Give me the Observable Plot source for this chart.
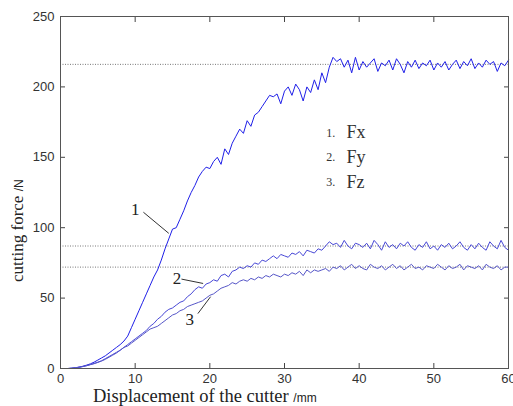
<!DOCTYPE html>
<html>
<head>
<meta charset="utf-8">
<script src="https://cdn.jsdelivr.net/npm/d3@7"></script>
<script src="https://cdn.jsdelivr.net/npm/@observablehq/plot@0.6"></script>
<style>
  body { margin: 0; background: #fff; }
  #chart svg { display: block; }
</style>
</head>
<body>
<div id="chart"></div>
<script>
// Displacement grid (mm), 0..60 every 0.5
const displacement = d3.range(0, 60.001, 0.5);

// Fx (curve 1), N
const fx = [
  0,0,0,0.2,0.5,1,1.6,2.4,3.3,4.5,
  6,7.5,9,11,13,15,17,19.5,23,29,
  35,41,47,53,59,65,70,77,85,92,
  99,100,106,112,119,125,130,136,140,143,
  142,147,150,145,156,152,160,165,170,167,
  176,172,180,182,186,190,194,193,195,188,
  197,200,194,202,198,190,200,196,205,198,
  210,203,214,221,218,220,214,219,210,221,
  212,218,214,217,220,211,217,215,219,212,
  220,216,210,218,214,219,213,217,215,219,
  212,217,214,218,212,216,219,213,218,215,
  220,213,217,214,219,216,218,211,217,215,
  219
];
// Fy (curve 2), N
const fy = [
  0,0,0,0.2,0.5,0.9,1.4,2,2.8,3.6,
  4.5,5.5,7,8.5,10,11.5,13,15,17,19,
  21,23,25,27,30,32,35,37,40,42,
  43,45,47,48,51,53,56,58,57,60,
  61,63,62,66,67,65,69,70,72,71,
  73,72,75,74,77,76,78,80,78,81,
  80,79,82,81,83,80,84,83,82,85,
  84,87,90,88,89,86,91,87,85,89,
  88,86,89,85,91,88,84,90,86,88,
  85,89,87,90,86,84,88,86,90,85,
  87,84,88,86,89,85,87,90,86,84,
  88,85,89,86,84,90,87,85,91,86,
  84
];
// Fz (curve 3), N
const fz = [
  0,0,0,0.2,0.5,0.9,1.4,2,2.7,3.4,
  4.3,5.3,6.5,8,9.5,11,13,15,16,18,
  20,22,24,26,28,29,30,32,34,36,
  38,39,41,42,44,45,46,47,48,50,
  52,53,55,57,58,59,61,60,62,63,
  62,64,63,65,64,66,65,67,66,65,
  67,66,68,67,69,66,70,68,70,69,
  70,71,69,72,71,73,70,72,74,71,
  73,71,70,74,72,71,73,70,72,74,
  71,73,70,72,74,71,72,70,73,72,
  71,74,72,70,73,71,72,74,70,73,
  72,71,73,70,74,72,71,73,70,72,
  72
];

// Steady-state reference levels (dotted lines)
const steadyLevels = [216, 87, 72];

// Tick labels
const xTicks = [0, 10, 20, 30, 40, 50, 60];
const yTicks = [0, 50, 100, 150, 200, 250];

// Curve labels with leader lines
const curveLabels = ["1", "2", "3"];
const labelX = [10.0, 15.6, 17.3];
const labelY = [113, 64, 35];
const leaderX1 = [11.1, 16.2, 18.4];
const leaderY1 = [111, 63.5, 39];
const leaderX2 = [14.5, 19.1, 20.1];
const leaderY2 = [96, 60.4, 51];

// Legend text
const legendNums = ["1.", "2.", "3."];
const legendNames = ["Fx", "Fy", "Fz"];
const legendY = [167.5, 150, 132.5];

const seriesColors = {Fx: "#1f1fe8", Fy: "#4848d6", Fz: "#5656c8"};

const rows = [];
[["Fx", fx], ["Fy", fy], ["Fz", fz]].forEach(([name, vals]) => {
  vals.forEach((v, i) => rows.push({s: name, x: displacement[i], y: v}));
});
const labels = curveLabels.map((t, i) => ({t, x: labelX[i], y: labelY[i]}));
const leaders = curveLabels.map((t, i) => ({x1: leaderX1[i], y1: leaderY1[i], x2: leaderX2[i], y2: leaderY2[i]}));
const legend = legendNums.map((n, i) => ({n, name: legendNames[i], y: legendY[i]}));

const chart = Plot.plot({
  width: 513,
  height: 406,
  marginLeft: 60,
  marginRight: 5,
  marginTop: 16,
  marginBottom: 38,
  style: {fontFamily: "'Liberation Sans', Arial, sans-serif", fontSize: "13px", color: "#333", background: "#fff"},
  x: {domain: [0, 60]},
  y: {domain: [0, 250]},
  marks: [
    Plot.ruleY(steadyLevels, {stroke: "#555", strokeWidth: 0.8, strokeDasharray: "1,1.5"}),
    Plot.line(rows, {x: "x", y: "y", z: "s", stroke: d => seriesColors[d.s], strokeWidth: 1}),
    Plot.link(leaders, {x1: "x1", y1: "y1", x2: "x2", y2: "y2", stroke: "#333", strokeWidth: 1}),
    Plot.text(labels, {x: "x", y: "y", text: "t", fontFamily: "'Liberation Serif', 'Times New Roman', serif", fontSize: 17, fill: "#222"}),
    Plot.text(legend, {x: 35.6, y: "y", text: "n", fontFamily: "'Liberation Serif', serif", fontSize: 12, fill: "#333", textAnchor: "start"}),
    Plot.text(legend, {x: 38.3, y: "y", text: "name", fontFamily: "'Liberation Serif', serif", fontSize: 18, fill: "#333", textAnchor: "start"}),
    Plot.axisX({ticks: xTicks, tickSize: -5, tickPadding: 10, label: null, stroke: "#444"}),
    Plot.axisX({anchor: "top", ticks: xTicks, tickSize: -5, tickFormat: () => "", label: null, stroke: "#444"}),
    Plot.axisY({ticks: yTicks, tickSize: -5, tickPadding: 11, label: null, stroke: "#444"}),
    Plot.axisY({anchor: "right", ticks: yTicks, tickSize: -5, tickFormat: () => "", label: null, stroke: "#444"}),
    Plot.frame({stroke: "#555", strokeWidth: 1})
  ]
});

const svg = d3.select(chart);
// y axis title
const yt = svg.append("text")
  .attr("transform", "translate(23,282) rotate(-90)")
  .attr("text-anchor", "start")
  .attr("fill", "#222");
yt.append("tspan").attr("font-family", "'Liberation Serif', serif").attr("font-size", 17).text("cutting force ");
yt.append("tspan").attr("font-family", "'Liberation Sans', sans-serif").attr("font-size", 12).text("/N");
// x axis title
const xt = svg.append("text")
  .attr("x", 93).attr("y", 402)
  .attr("text-anchor", "start")
  .attr("fill", "#222");
xt.append("tspan").attr("font-family", "'Liberation Serif', serif").attr("font-size", 18.5).text("Displacement of the cutter ");
xt.append("tspan").attr("font-family", "'Liberation Sans', sans-serif").attr("font-size", 12).text("/mm");

document.getElementById("chart").appendChild(chart);
</script>
</body>
</html>
